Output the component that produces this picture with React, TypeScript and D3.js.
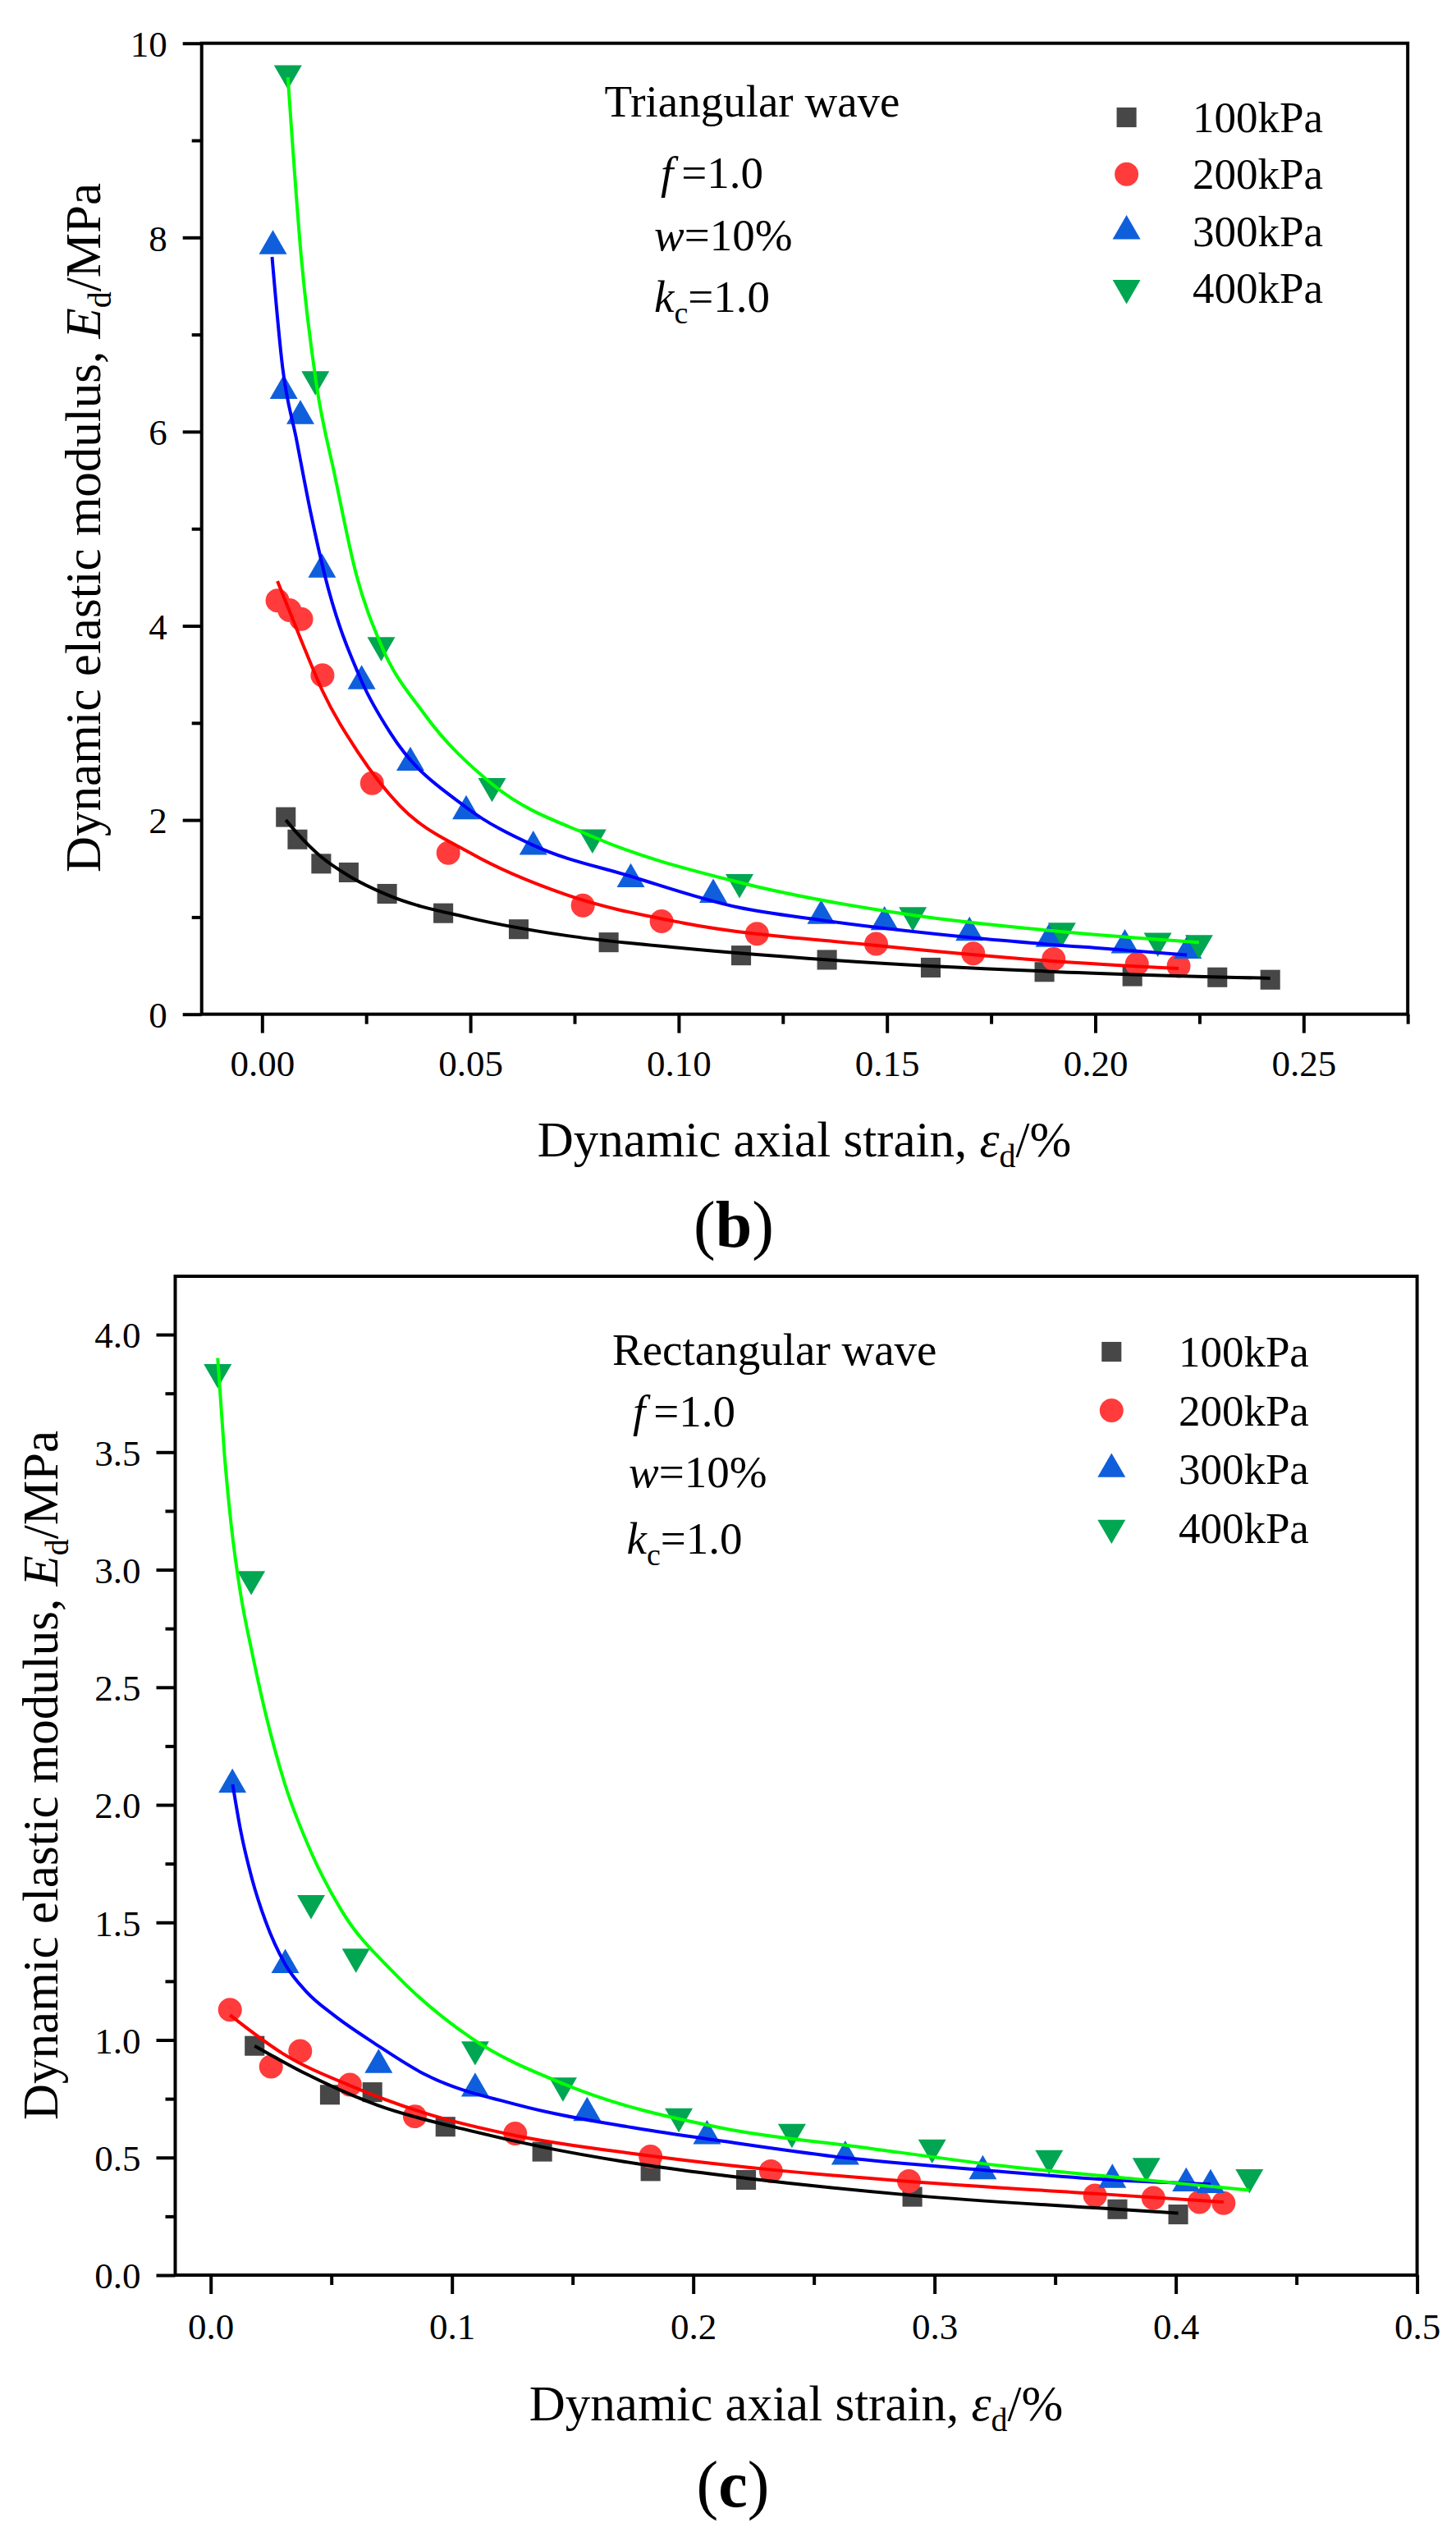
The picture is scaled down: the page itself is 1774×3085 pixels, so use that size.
import { useEffect, useRef } from "react"
import * as d3 from "d3"

type Pt = [number, number]

// (b) triangular wave: measured points [dynamic axial strain %, Ed MPa]
const tri100: Pt[] = [[0.0057, 2.03], [0.0085, 1.8], [0.0142, 1.55], [0.0208, 1.46], [0.03, 1.24], [0.0435, 1.04], [0.0616, 0.875], [0.0832, 0.74], [0.115, 0.605], [0.1356, 0.56], [0.1605, 0.48], [0.1878, 0.435], [0.2089, 0.39], [0.2293, 0.38], [0.242, 0.355]]
const tri200: Pt[] = [[0.0037, 4.26], [0.0066, 4.16], [0.0094, 4.07], [0.0145, 3.49], [0.0264, 2.38], [0.0447, 1.66], [0.077, 1.12], [0.0959, 0.957], [0.1188, 0.827], [0.1474, 0.724], [0.1707, 0.625], [0.19, 0.569], [0.21, 0.517], [0.22, 0.496]]
const tri300: Pt[] = [[0.0026, 7.91], [0.0052, 6.42], [0.0092, 6.16], [0.0144, 4.58], [0.0239, 3.43], [0.0356, 2.59], [0.049, 2.09], [0.0651, 1.725], [0.0885, 1.39], [0.1083, 1.23], [0.1342, 1.013], [0.1494, 0.948], [0.1698, 0.84], [0.189, 0.776], [0.2071, 0.711], [0.2222, 0.655]]
const tri400: Pt[] = [[0.0062, 9.69], [0.0128, 6.54], [0.0286, 3.8], [0.0552, 2.35], [0.0793, 1.82], [0.1146, 1.36], [0.1562, 1.02], [0.192, 0.86], [0.215, 0.755], [0.2249, 0.733]]

// (b) fitted curves
const triFit100: Pt[] = [[0.0057, 2.0], [0.0085, 1.86], [0.0142, 1.62], [0.021, 1.42], [0.03, 1.23], [0.05, 0.99], [0.073, 0.81], [0.101, 0.68], [0.136, 0.56], [0.189, 0.44], [0.242, 0.37]]
const triFit200: Pt[] = [[0.0037, 4.46], [0.0094, 3.85], [0.0145, 3.33], [0.023, 2.7], [0.033, 2.15], [0.05, 1.66], [0.073, 1.23], [0.101, 0.94], [0.147, 0.71], [0.189, 0.55], [0.22, 0.47]]
const triFit300: Pt[] = [[0.0024, 7.8], [0.0049, 6.67], [0.0083, 5.91], [0.0117, 5.16], [0.015, 4.53], [0.0239, 3.43], [0.0309, 2.89], [0.049, 2.13], [0.0651, 1.74], [0.0885, 1.42], [0.1143, 1.1], [0.134, 0.97], [0.17, 0.79], [0.207, 0.66], [0.222, 0.61]]
const triFit400: Pt[] = [[0.0062, 9.65], [0.0094, 7.8], [0.013, 6.5], [0.0175, 5.54], [0.0226, 4.53], [0.0286, 3.8], [0.0388, 3.1], [0.0552, 2.37], [0.0793, 1.83], [0.1143, 1.36], [0.1562, 1.02], [0.192, 0.85], [0.2249, 0.74]]

// (c) rectangular wave: measured points
const rect100: Pt[] = [[0.0182, 0.975], [0.0494, 0.767], [0.067, 0.778], [0.0973, 0.631], [0.1374, 0.525], [0.1823, 0.442], [0.2219, 0.405], [0.2908, 0.333], [0.3758, 0.28], [0.401, 0.258]]
const rect200: Pt[] = [[0.008, 1.128], [0.025, 0.887], [0.0371, 0.953], [0.0577, 0.81], [0.0846, 0.675], [0.1262, 0.602], [0.1823, 0.504], [0.2322, 0.442], [0.2894, 0.4], [0.3665, 0.339], [0.3907, 0.328], [0.4098, 0.311], [0.4198, 0.306]]
const rect300: Pt[] = [[0.009, 2.086], [0.0309, 1.319], [0.0696, 0.894], [0.1096, 0.793], [0.156, 0.69], [0.2057, 0.591], [0.263, 0.504], [0.32, 0.442], [0.3737, 0.405], [0.4043, 0.39], [0.4144, 0.383]]
const rect400: Pt[] = [[0.0029, 3.84], [0.0168, 2.96], [0.0416, 1.582], [0.0602, 1.354], [0.1096, 0.96], [0.146, 0.806], [0.194, 0.675], [0.2409, 0.609], [0.299, 0.543], [0.3475, 0.497], [0.3878, 0.464], [0.4305, 0.416]]

// (c) fitted curves
const rectFit100: Pt[] = [[0.0182, 0.975], [0.0397, 0.855], [0.069, 0.723], [0.108, 0.613], [0.1374, 0.545], [0.1823, 0.465], [0.2219, 0.412], [0.2908, 0.339], [0.3758, 0.28], [0.401, 0.263]]
const rectFit200: Pt[] = [[0.008, 1.106], [0.0299, 0.942], [0.0592, 0.8], [0.0885, 0.69], [0.1276, 0.591], [0.1764, 0.515], [0.2316, 0.449], [0.2898, 0.398], [0.3674, 0.346], [0.4198, 0.311]]
const rectFit300: Pt[] = [[0.0091, 2.087], [0.0125, 1.886], [0.0171, 1.686], [0.0227, 1.506], [0.0307, 1.325], [0.0397, 1.205], [0.0511, 1.105], [0.068, 0.985], [0.0885, 0.855], [0.1276, 0.723], [0.1764, 0.625], [0.2122, 0.57], [0.263, 0.499], [0.32, 0.447], [0.3737, 0.405], [0.4144, 0.387]]
const rectFit400: Pt[] = [[0.0029, 3.9], [0.0057, 3.49], [0.0085, 3.19], [0.0125, 2.89], [0.0171, 2.65], [0.0227, 2.39], [0.0307, 2.09], [0.042, 1.79], [0.0545, 1.546], [0.076, 1.285], [0.108, 1.008], [0.147, 0.81], [0.2122, 0.625], [0.2704, 0.543], [0.3286, 0.464], [0.387, 0.405], [0.4305, 0.361]]

const seriesNames = ["100kPa", "200kPa", "300kPa", "400kPa"]
const markerColors = ["#474747", "#FF3B3B", "#0F5FDC", "#00A651"]
const lineColors = ["#000000", "#FF0000", "#0000FF", "#00FF00"]

const triXTicks = [0, 0.05, 0.1, 0.15, 0.2, 0.25]
const triXMinor = [0.025, 0.075, 0.125, 0.175, 0.225, 0.275]
const triYTicks = [0, 2, 4, 6, 8, 10]
const triYMinor = [1, 3, 5, 7, 9]
const rectXTicks = [0, 0.1, 0.2, 0.3, 0.4, 0.5]
const rectXMinor = [0.05, 0.15, 0.25, 0.35, 0.45]
const rectYTicks = [0, 0.5, 1, 1.5, 2, 2.5, 3, 3.5, 4]
const rectYMinor = [0.25, 0.75, 1.25, 1.75, 2.25, 2.75, 3.25, 3.75]

const FONT = "'Liberation Serif', 'Times New Roman', serif"
const symbolTypes = [d3.symbolSquare, d3.symbolCircle, d3.symbolTriangle, d3.symbolTriangle]
const symbolSizes = [580, 660, 500, 500]

interface PanelProps {
  box: { left: number; right: number; top: number; bottom: number }
  xDomain: [number, number]
  yDomain: [number, number]
  xTicks: number[]
  xMinor: number[]
  yTicks: number[]
  yMinor: number[]
  xFormat: string
  yFormat: string
  xLabelY: number
  points: Pt[][]
  fits: Pt[][]
  legend: { x: number; y: number; step: number; dx: number }
}

function Panel(p: PanelProps) {
  const ref = useRef<SVGGElement>(null)

  useEffect(() => {
    if (!ref.current) return
    const g = d3.select(ref.current)
    g.selectAll("*").remove()
    const { left, right, top, bottom } = p.box

    const x = d3.scaleLinear().domain(p.xDomain).range([left, right])
    const y = d3.scaleLinear().domain(p.yDomain).range([bottom, top])

    const style = (a: d3.Selection<SVGGElement, unknown, null, undefined>) => {
      a.select(".domain").remove()
      a.attr("font-family", FONT).attr("font-size", 45)
      a.selectAll(".tick line").attr("stroke", "#000").attr("stroke-width", 4)
      a.selectAll(".tick text").attr("fill", "#000").style("font-family", FONT)
    }

    // minor ticks
    g.append("g")
      .attr("transform", `translate(0,${bottom})`)
      .call(d3.axisBottom(x).tickValues(p.xMinor).tickSize(12).tickSizeOuter(0).tickFormat(() => ""))
      .call(style)
    g.append("g")
      .attr("transform", `translate(${left},0)`)
      .call(d3.axisLeft(y).tickValues(p.yMinor).tickSize(12).tickSizeOuter(0).tickFormat(() => ""))
      .call(style)

    // major ticks
    const xa = g.append("g")
      .attr("transform", `translate(0,${bottom})`)
      .call(d3.axisBottom(x).tickValues(p.xTicks).tickSize(23).tickSizeOuter(0).tickFormat(d3.format(p.xFormat) as any))
      .call(style)
    xa.selectAll(".tick text").attr("dy", null).attr("y", p.xLabelY)

    g.append("g")
      .attr("transform", `translate(${left},0)`)
      .call(d3.axisLeft(y).tickValues(p.yTicks).tickSize(23).tickPadding(19).tickSizeOuter(0).tickFormat(d3.format(p.yFormat) as any))
      .call(style)
      .selectAll(".tick text").attr("dy", "0.35em")

    // frame
    g.append("rect")
      .attr("x", left)
      .attr("y", top)
      .attr("width", right - left)
      .attr("height", bottom - top)
      .attr("fill", "none")
      .attr("stroke", "#000")
      .attr("stroke-width", 4)

    // markers
    p.points.forEach((pts, i) => {
      const sym = d3.symbol().type(symbolTypes[i]).size(symbolSizes[i])
      g.selectAll(`.m${i}`)
        .data(pts)
        .enter()
        .append("path")
        .attr("class", `m${i}`)
        .attr("d", sym)
        .attr("transform", d => `translate(${x(d[0])},${y(d[1])})${i === 3 ? " rotate(180)" : ""}`)
        .attr("fill", markerColors[i])
    })

    // fitted curves
    const line = d3.line<Pt>()
      .x(d => x(d[0]))
      .y(d => y(d[1]))
      .curve(d3.curveMonotoneX)
    p.fits.forEach((pts, i) => {
      g.append("path")
        .datum(pts)
        .attr("fill", "none")
        .attr("stroke", lineColors[i])
        .attr("stroke-width", 4)
        .attr("d", line)
    })

    // legend
    seriesNames.forEach((name, i) => {
      const cy = p.legend.y + i * p.legend.step
      const sym = d3.symbol().type(symbolTypes[i]).size(symbolSizes[i])
      g.append("path")
        .attr("d", sym)
        .attr("transform", `translate(${p.legend.x},${cy})${i === 3 ? " rotate(180)" : ""}`)
        .attr("fill", markerColors[i])
      g.append("text")
        .attr("x", p.legend.x + p.legend.dx)
        .attr("y", cy + 18)
        .style("font-family", FONT)
        .attr("font-size", 53)
        .attr("fill", "#000")
        .text(name)
    })
  }, [p])

  return <g ref={ref} />
}

function Info({ x, y, title, rows }: { x: number; y: number; title: string; rows: { x: number; y: number }[] }) {
  return (
    <g style={{ fontFamily: FONT }} fontSize={55} fill="#000">
      <text x={x} y={y}>{title}</text>
      <text x={rows[0].x} y={rows[0].y}>
        <tspan fontStyle="italic">f</tspan>
        <tspan dx={10}>=1.0</tspan>
      </text>
      <text x={rows[1].x} y={rows[1].y}>
        <tspan fontStyle="italic">w</tspan>
        <tspan>=10%</tspan>
      </text>
      <text x={rows[2].x} y={rows[2].y}>
        <tspan fontStyle="italic">k</tspan>
        <tspan fontSize={38} dy={14}>c</tspan>
        <tspan dy={-14}>=1.0</tspan>
      </text>
    </g>
  )
}

function YTitle({ x, y }: { x: number; y: number }) {
  return (
    <text transform={`translate(${x},${y}) rotate(-90)`} textAnchor="middle" style={{ fontFamily: FONT }} fontSize={61} fill="#000">
      <tspan>Dynamic elastic modulus, </tspan>
      <tspan fontStyle="italic">E</tspan>
      <tspan fontSize={40} dy={13}>d</tspan>
      <tspan dy={-13}>/MPa</tspan>
    </text>
  )
}

function XTitle({ x, y }: { x: number; y: number }) {
  return (
    <text x={x} y={y} textAnchor="middle" style={{ fontFamily: FONT }} fontSize={61} fill="#000">
      <tspan>Dynamic axial strain, </tspan>
      <tspan fontStyle="italic">ε</tspan>
      <tspan fontSize={40} dy={13}>d</tspan>
      <tspan dy={-13}>/%</tspan>
    </text>
  )
}

function PanelLabel({ x, y, letter }: { x: number; y: number; letter: string }) {
  return (
    <text x={x} y={y} textAnchor="middle" style={{ fontFamily: FONT }} fontSize={80} fill="#000">
      (<tspan fontWeight="bold">{letter}</tspan>)
    </text>
  )
}

const triProps: PanelProps = {
  box: { left: 245.7, right: 1715.2, top: 52.7, bottom: 1235.7 },
  xDomain: [-0.0145, 0.275],
  yDomain: [0, 10],
  xTicks: triXTicks,
  xMinor: triXMinor,
  yTicks: triYTicks,
  yMinor: triYMinor,
  xFormat: ".2f",
  yFormat: "d",
  xLabelY: 75,
  points: [tri100, tri200, tri300, tri400],
  fits: [triFit100, triFit200, triFit300, triFit400],
  legend: { x: 1372.6, y: 143, step: 69.3, dx: 80.5 },
}

const rectProps: PanelProps = {
  box: { left: 213.5, right: 1726.6, top: 1555, bottom: 2772 },
  xDomain: [-0.0147, 0.5],
  yDomain: [0, 4.248],
  xTicks: rectXTicks,
  xMinor: rectXMinor,
  yTicks: rectYTicks,
  yMinor: rectYMinor,
  xFormat: ".1f",
  yFormat: ".1f",
  xLabelY: 78,
  points: [rect100, rect200, rect300, rect400],
  fits: [rectFit100, rectFit200, rectFit300, rectFit400],
  legend: { x: 1354.3, y: 1647, step: 71.5, dx: 81.6 },
}

export default function App() {
  return (
    <svg
      width={1774}
      height={3085}
      style={{ position: "absolute", left: 0, top: 0, background: "#fff", display: "block" }}
    >
      <Panel {...triProps} />
      <Info
        x={736.5}
        y={142}
        title="Triangular wave"
        rows={[{ x: 805, y: 228.6 }, { x: 797, y: 304.5 }, { x: 797, y: 380 }]}
      />
      <YTitle x={122} y={643} />
      <XTitle x={980} y={1409} />
      <PanelLabel x={894} y={1519} letter="b" />

      <Panel {...rectProps} />
      <Info
        x={746}
        y={1663}
        title="Rectangular wave"
        rows={[{ x: 771, y: 1738 }, { x: 766, y: 1812 }, { x: 763.5, y: 1893 }]}
      />
      <YTitle x={70} y={2163} />
      <XTitle x={970} y={2949} />
      <PanelLabel x={893} y={3054} letter="c" />
    </svg>
  )
}
